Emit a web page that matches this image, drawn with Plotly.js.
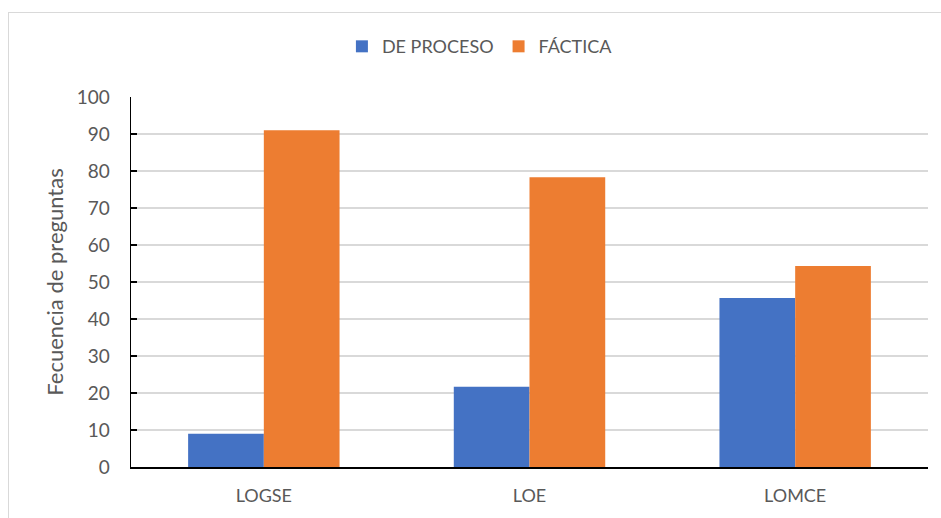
<!DOCTYPE html>
<html>
<head>
<meta charset="utf-8">
<script src="https://cdn.plot.ly/plotly-3.0.1.min.js"></script>
<style>
  html, body { margin: 0; padding: 0; background: #ffffff; }
  #wrap { position: relative; width: 941px; height: 518px; overflow: hidden; }
  #chart { position: absolute; left: 0; top: 0; width: 941px; height: 518px; }
  #frame { position: absolute; left: 8px; top: 12px; width: 940px; height: 520px; border: 1px solid #d9d9d9; pointer-events: none; box-sizing: border-box; }
</style>
</head>
<body>
<div id="wrap">
  <div id="chart"></div>
  <div id="frame"></div>
</div>
<script>
const categories = ["LOGSE", "LOE", "LOMCE"];
const deProceso = [9, 21.7, 45.7];
const factica = [91, 78.3, 54.3];
const seriesNames = ["DE PROCESO", "FÁCTICA"];
const yTicks = [0, 10, 20, 30, 40, 50, 60, 70, 80, 90, 100];

const font = "Lato, 'Open Sans', 'DejaVu Sans', sans-serif";
const txt = "#595959";

const data = [
  { type: "bar", name: seriesNames[0], x: categories, y: deProceso,
    marker: { color: "#4472c4" } },
  { type: "bar", name: seriesNames[1], x: categories, y: factica,
    marker: { color: "#ed7d31" } }
];

const layout = {
  width: 941, height: 518,
  margin: { l: 131, r: 13, t: 97, b: 51 },
  paper_bgcolor: "#ffffff", plot_bgcolor: "#ffffff",
  barmode: "group", bargap: 0.43, bargroupgap: 0,
  font: { family: font, color: txt, size: 18 },
  showlegend: true,
  legend: { orientation: "h", x: 0.51, xanchor: "center",
    xref: "container", yref: "container", yanchor: "middle", y: 0.91,
    font: { family: font, size: 18, color: txt }, traceorder: "normal",
    itemwidth: 30, tracegroupgap: 0 },
  xaxis: {
    type: "category", showgrid: false, zeroline: false,
    showline: true, linecolor: "#000000", linewidth: 1.5,
    ticks: "", tickfont: { family: font, size: 18, color: txt },
    ticklabelstandoff: 12
  },
  yaxis: {
    range: [0, 100], tickvals: yTicks, ticktext: yTicks.map(String),
    showgrid: true, gridcolor: "#d9d9d9", gridwidth: 1.5,
    zeroline: false, showline: true, linecolor: "#000000", linewidth: 1.5,
    ticks: "inside", ticklen: 6, tickcolor: "#000000", tickwidth: 1.5,
    tickfont: { family: font, size: 19, color: txt },
    ticklabelstandoff: 16,
    title: { text: "Fecuencia de preguntas", font: { family: font, size: 22, color: txt }, standoff: 7 }
  }
};

Plotly.newPlot("chart", data, layout, { displayModeBar: false, staticPlot: true });
</script>
</body>
</html>
